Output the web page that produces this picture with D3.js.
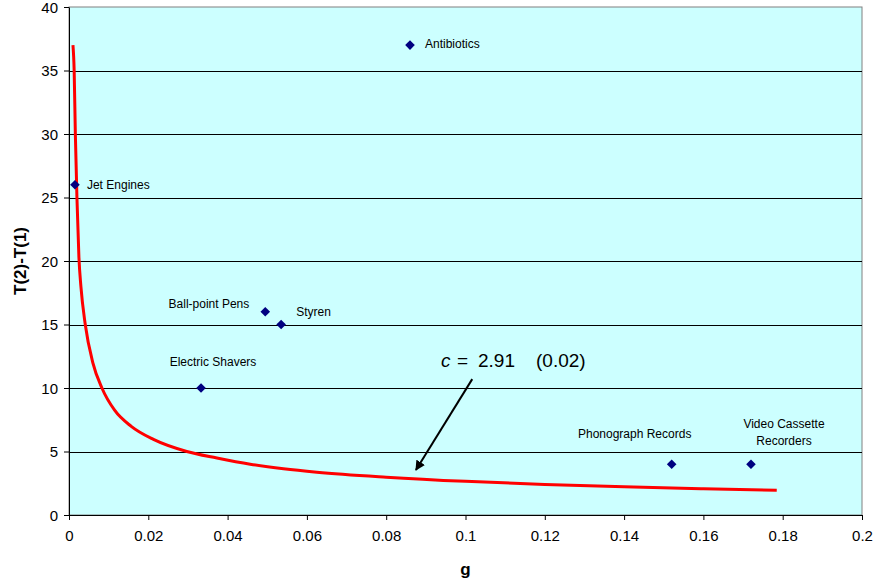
<!DOCTYPE html>
<html>
<head>
<meta charset="utf-8">
<script src="https://cdn.jsdelivr.net/npm/d3@7"></script>
<style>
  body { margin: 0; background: #fff; }
  text { font-family: Arial, "Liberation Sans", sans-serif; fill: #000; }
</style>
</head>
<body>
<div id="chart"></div>
<script>
// Product points: growth rate g vs. lag T(2)-T(1)
var products = ["Jet Engines", "Antibiotics", "Ball-point Pens", "Styren",
                "Electric Shavers", "Phonograph Records", "Video Cassette Recorders"];
var gValues = [0.0015, 0.086, 0.0495, 0.0535, 0.0333, 0.152, 0.172];
var lagValues = [26, 37, 16, 15, 10, 4, 4];

// Fitted curve
var curveG = [0.0010, 0.0013, 0.0016, 0.0020, 0.0025, 0.0030, 0.0041, 0.0060,
              0.0083, 0.0115, 0.0157, 0.0213, 0.0297, 0.0373, 0.0457, 0.0541,
              0.0625, 0.0800, 0.1000, 0.1200, 0.1400, 0.1600, 0.1785];
var curveT = [37.0, 35.0, 30.0, 25.0, 20.3, 18.0, 15.0, 12.0,
              10.0, 8.25, 6.98, 5.95, 5.0, 4.49, 4.0, 3.64,
              3.37, 2.98, 2.65, 2.41, 2.22, 2.07, 1.94];

// Axis ticks
var xTicks = [0, 0.02, 0.04, 0.06, 0.08, 0.1, 0.12, 0.14, 0.16, 0.18, 0.2];
var yTicks = [0, 5, 10, 15, 20, 25, 30, 35, 40];

// Annotation
var annotation = ["c", "=", "2.91", "(0.02)"];
var arrowFrom = [0.1017, 10.7];
var arrowTo = [0.0875, 3.55];

var W = 875, H = 581;
var margin = { left: 69, right: 13, top: 7, bottom: 66 };
var pw = W - margin.left - margin.right;
var ph = H - margin.top - margin.bottom;

var x = d3.scaleLinear().domain([0, 0.2]).range([0, pw]);
var y = d3.scaleLinear().domain([0, 40]).range([ph, 0]);

var svg = d3.select("#chart")
  .append("svg")
  .attr("width", W)
  .attr("height", H);

var g = svg.append("g")
  .attr("transform", "translate(" + margin.left + "," + margin.top + ")");

// plot area
g.append("rect")
  .attr("width", pw)
  .attr("height", ph)
  .style("fill", "#ccffff")
  .style("stroke", "#808080")
  .style("stroke-width", "1px");

// gridlines
g.selectAll("line.grid")
  .data(yTicks.filter(function(d) { return d > 0 && d < 40; }))
  .enter()
  .append("line")
  .attr("class", "grid")
  .attr("x1", 0)
  .attr("x2", pw)
  .attr("y1", function(d) { return Math.round(y(d)) + 0.5; })
  .attr("y2", function(d) { return Math.round(y(d)) + 0.5; })
  .style("stroke", "#000")
  .style("stroke-width", "1px");

// x axis
var xAxis = g.append("g")
  .attr("transform", "translate(0," + ph + ")")
  .call(d3.axisBottom(x).tickValues(xTicks).tickSize(5).tickSizeOuter(0)
    .tickFormat(function(d) { return d3.format("~g")(d); }));
xAxis.selectAll("text").style("font-size", "15px").attr("dy", "0").attr("y", 26);

// y axis
var yAxis = g.append("g")
  .call(d3.axisLeft(y).tickValues(yTicks).tickSize(5).tickSizeOuter(0));
yAxis.selectAll("text").style("font-size", "15px").attr("x", -11).attr("dy", "0.36em");

svg.selectAll(".domain, .tick line").style("stroke", "#000");
svg.selectAll(".tick text").style("fill", "#000").style("font-family", "Arial, 'Liberation Sans', sans-serif");

// axis titles
svg.append("text")
  .attr("x", margin.left + x(0.1))
  .attr("y", 575)
  .attr("text-anchor", "middle")
  .style("font-size", "17px")
  .style("font-weight", "bold")
  .text("g");

svg.append("text")
  .attr("transform", "translate(26," + (margin.top + y(20)) + ") rotate(-90)")
  .attr("text-anchor", "middle")
  .style("font-size", "17px")
  .style("font-weight", "bold")
  .text("T(2)-T(1)");

// fitted curve
var line = d3.line()
  .x(function(d, i) { return x(curveG[i]); })
  .y(function(d) { return y(d); })
  .curve(d3.curveMonotoneX);

g.append("path")
  .datum(curveT)
  .attr("d", line)
  .style("fill", "none")
  .style("stroke", "#ff0000")
  .style("stroke-width", "3px");

// points
g.selectAll("path.pt")
  .data(products)
  .enter()
  .append("path")
  .attr("class", "pt")
  .attr("d", d3.symbol().type(d3.symbolSquare).size(46))
  .attr("transform", function(d, i) {
    return "translate(" + x(gValues[i]) + "," + y(lagValues[i]) + ") rotate(45)";
  })
  .style("fill", "#000080");

// point labels: offsets from the marker, in pixels
var labelPos = [
  { dx: 12, dy: 4, anchor: "start" },
  { dx: 15, dy: 3, anchor: "start" },
  { dx: -16, dy: -4, anchor: "end" },
  { dx: 15, dy: -9, anchor: "start" },
  { dx: 12, dy: -22, anchor: "middle" },
  { dx: -37, dy: -26, anchor: "middle" },
  { dx: 33, dy: -36, anchor: "middle" }
];

g.selectAll("text.lbl")
  .data(products)
  .enter()
  .append("text")
  .attr("class", "lbl")
  .attr("x", function(d, i) { return x(gValues[i]) + labelPos[i].dx; })
  .attr("y", function(d, i) { return y(lagValues[i]) + labelPos[i].dy; })
  .attr("text-anchor", function(d, i) { return labelPos[i].anchor; })
  .style("font-size", "12px")
  .each(function(d, i) {
    var t = d3.select(this);
    if (d === "Video Cassette Recorders") {
      t.append("tspan").text("Video Cassette");
      t.append("tspan")
        .attr("x", x(gValues[i]) + labelPos[i].dx)
        .attr("dy", 17)
        .text("Recorders");
    } else {
      t.text(d);
    }
  });

// annotation text
var annX = [372, 388, 409, 467];
var ann = g.append("text")
  .attr("y", 360)
  .style("font-size", "19px");
ann.selectAll("tspan")
  .data(annotation)
  .enter()
  .append("tspan")
  .attr("x", function(d, i) { return annX[i]; })
  .style("font-style", function(d) { return d === "c" ? "italic" : "normal"; })
  .text(function(d) { return d; });

// arrow
svg.append("defs")
  .append("marker")
  .attr("id", "head")
  .attr("viewBox", "0 0 10 10")
  .attr("refX", 9)
  .attr("refY", 5)
  .attr("markerWidth", 5)
  .attr("markerHeight", 5)
  .attr("orient", "auto")
  .append("path")
  .attr("d", "M0,0 L10,5 L0,10 z")
  .style("fill", "#000");

g.append("line")
  .attr("x1", x(arrowFrom[0]))
  .attr("y1", y(arrowFrom[1]))
  .attr("x2", x(arrowTo[0]))
  .attr("y2", y(arrowTo[1]))
  .attr("marker-end", "url(#head)")
  .style("stroke", "#000")
  .style("stroke-width", "2px");
</script>
</body>
</html>
